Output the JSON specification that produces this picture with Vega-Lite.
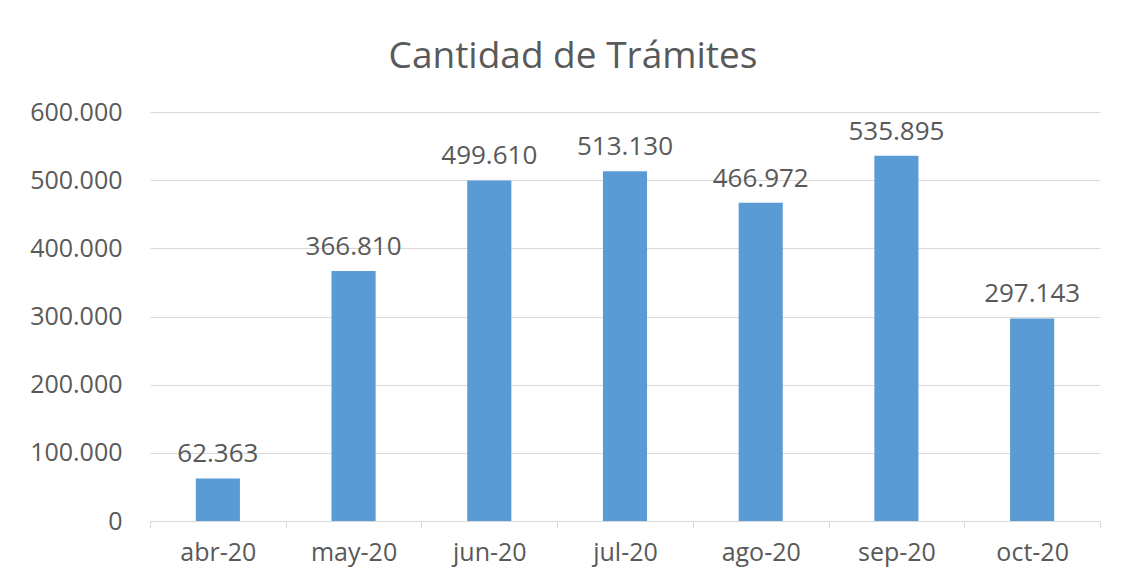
{
  "$schema": "https://vega.github.io/schema/vega-lite/v6.json",
  "autosize": "none",
  "width": 950,
  "height": 409,
  "padding": {"left": 150, "top": 112, "right": 21, "bottom": 54},
  "background": "white",
  "config": {
    "locale": {"number": {"decimal": ",", "thousands": ".", "grouping": [3], "currency": ["", " €"]}},
    "font": "Open Sans",
    "view": {"stroke": null}
  },
  "title": {
    "text": "Cantidad de Trámites",
    "font": "Open Sans",
    "fontSize": 37,
    "fontWeight": "normal",
    "color": "#595959",
    "anchor": "middle",
    "frame": "group",
    "baseline": "alphabetic",
    "offset": -5,
    "dx": -52
  },
  "data": {
    "values": [
      {"mes": "abr-20", "tramites": 62363},
      {"mes": "may-20", "tramites": 366810},
      {"mes": "jun-20", "tramites": 499610},
      {"mes": "jul-20", "tramites": 513130},
      {"mes": "ago-20", "tramites": 466972},
      {"mes": "sep-20", "tramites": 535895},
      {"mes": "oct-20", "tramites": 297143}
    ]
  },
  "encoding": {
    "x": {
      "field": "mes",
      "type": "nominal",
      "sort": null,
      "scale": {"paddingInner": 0, "paddingOuter": 0},
      "axis": {
        "title": null,
        "labelAngle": 0,
        "labelFont": "Open Sans",
        "labelFontSize": 25,
        "labelColor": "#595959",
        "labelBaseline": "alphabetic",
        "labelPadding": 32,
        "domainColor": "#D9D9D9",
        "tickColor": "#D9D9D9",
        "tickSize": 7,
        "tickBand": "extent",
        "grid": false
      }
    },
    "y": {
      "field": "tramites",
      "type": "quantitative",
      "scale": {"domain": [0, 600000], "nice": false},
      "axis": {
        "title": null,
        "values": [0, 100000, 200000, 300000, 400000, 500000, 600000],
        "format": ",d",
        "labelFont": "Open Sans",
        "labelFontSize": 25,
        "labelColor": "#595959",
        "labelPadding": 28,
        "ticks": false,
        "domain": false,
        "grid": true,
        "gridColor": "#D9D9D9",
        "gridWidth": 1
      }
    }
  },
  "layer": [
    {
      "mark": {"type": "bar", "color": "#5B9BD5", "width": {"band": 0.325}}
    },
    {
      "mark": {
        "type": "text",
        "baseline": "alphabetic",
        "dy": -16,
        "font": "Open Sans",
        "fontSize": 26,
        "color": "#595959"
      },
      "encoding": {
        "text": {"field": "tramites", "type": "quantitative", "format": ",d"}
      }
    }
  ]
}
